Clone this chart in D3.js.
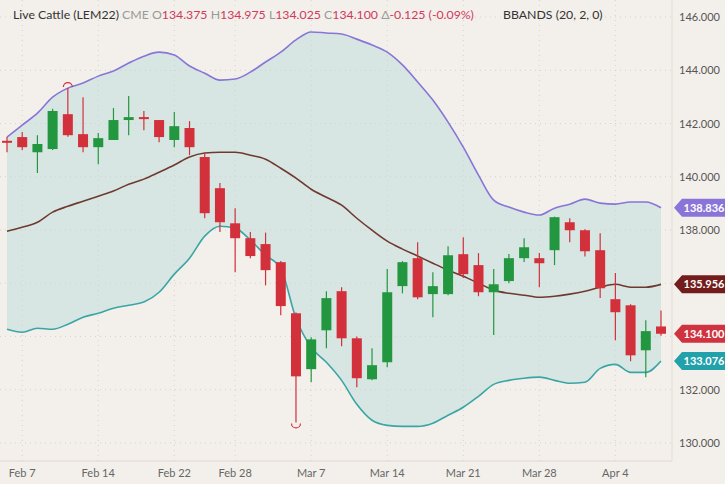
<!DOCTYPE html>
<html>
<head>
<meta charset="utf-8">
<script src="https://cdn.jsdelivr.net/npm/d3@7"></script>
<style>
  body { margin: 0; background: #f3f0eb; }
  svg { display: block; font-family: Lato, "Open Sans", sans-serif; }
</style>
</head>
<body>
<script>
const dates = ['Feb 4','Feb 7','Feb 8','Feb 9','Feb 10','Feb 11','Feb 14','Feb 15','Feb 16','Feb 17','Feb 18',
  'Feb 22','Feb 23','Feb 24','Feb 25','Feb 28','Mar 1','Mar 2','Mar 3','Mar 4','Mar 7','Mar 8','Mar 9','Mar 10','Mar 11',
  'Mar 14','Mar 15','Mar 16','Mar 17','Mar 18','Mar 21','Mar 22','Mar 23','Mar 24','Mar 25','Mar 28','Mar 29','Mar 30',
  'Mar 31','Apr 1','Apr 4','Apr 5','Apr 6','Apr 7'];
const open  = [141.35,141.49,140.92,141.04,142.35,141.60,141.11,141.38,142.13,142.24,142.13,141.38,141.83,140.74,139.57,138.25,137.69,137.47,136.79,134.87,132.77,134.23,135.70,133.93,132.39,133.03,135.89,136.94,135.59,135.59,137.09,136.68,135.66,136.08,136.94,136.94,137.24,138.29,137.99,137.24,135.40,135.17,133.48,134.375];
const high  = [141.49,141.68,141.56,142.55,143.33,142.99,141.64,142.58,143.03,142.47,142.13,142.43,142.09,140.89,139.76,138.82,137.92,137.90,136.83,134.90,133.97,135.70,135.85,134.00,133.56,136.53,136.83,137.54,136.41,137.39,137.73,137.13,136.53,137.10,137.69,137.13,138.50,138.44,138.03,137.88,136.38,135.21,134.61,134.975];
const low   = [140.92,141.00,140.14,141.00,141.50,140.92,140.47,141.40,141.56,141.75,141.30,141.11,140.81,138.44,137.92,136.41,136.94,135.92,134.80,130.77,132.28,133.56,133.63,132.09,132.35,132.84,135.62,135.40,134.72,135.55,136.20,135.51,134.05,136.00,136.80,135.85,136.68,137.54,137.00,135.44,133.86,133.07,132.47,134.025];
const close = [141.30,141.11,141.23,142.47,141.56,141.11,141.45,142.13,142.24,142.17,141.49,141.90,141.11,138.63,138.29,137.69,137.02,136.49,135.14,132.50,133.89,135.44,133.93,132.43,132.92,135.66,136.79,135.47,135.89,137.05,136.34,135.66,135.96,136.94,137.35,136.75,138.48,137.99,137.20,135.81,134.91,133.29,134.20,134.10];
const upper = [141.49,141.94,142.39,142.99,143.33,143.52,143.78,143.97,144.27,144.53,144.68,144.57,144.16,143.89,143.63,143.67,143.93,144.31,144.68,145.14,145.44,145.40,145.36,145.17,144.95,144.68,144.20,143.56,142.88,142.05,141.11,140.06,139.12,138.86,138.67,138.56,138.82,138.97,139.16,139.01,138.97,139.05,139.05,138.836];
const middle = [137.95,138.10,138.29,138.67,138.89,139.08,139.27,139.46,139.72,139.91,140.17,140.44,140.74,140.89,140.92,140.92,140.81,140.66,140.32,139.95,139.53,139.23,138.93,138.44,137.99,137.58,137.28,137.02,136.75,136.49,136.26,136.00,135.74,135.62,135.55,135.47,135.51,135.59,135.70,135.85,135.96,135.85,135.85,135.956];
const lower = [134.27,134.16,134.31,134.27,134.46,134.72,134.87,135.06,135.17,135.29,135.66,136.34,136.94,137.77,138.14,138.07,137.62,137.05,136.56,134.68,133.59,133.03,132.35,131.45,130.85,130.66,130.62,130.62,130.74,131.04,131.34,131.75,132.20,132.35,132.43,132.47,132.35,132.24,132.28,132.80,132.95,132.65,132.65,133.076];
const xTicks = ['Feb 7','Feb 14','Feb 22','Feb 28','Mar 7','Mar 14','Mar 21','Mar 28','Apr 4'];
const yTicks = [130,132,134,136,138,140,142,144,146];

const width = 725, height = 484;
const plotRight = 672, plotBottom = 461;
const RED = '#d2303a', GREEN = '#23973f';

const x = d3.scaleLinear().domain([0, dates.length - 1]).range([7, 661]);
const y = d3.scaleLinear().domain([129.32, 146.64]).range([plotBottom, 0]);

const svg = d3.select('body').append('svg').attr('width', width).attr('height', height);
svg.append('rect').attr('width', width).attr('height', height).attr('fill', '#f3f0eb');

const idx = d3.range(dates.length);
const last = dates.length - 1;

// band fill
svg.append('path')
  .attr('fill', '#d8e6e3')
  .attr('d', d3.area().x(i => x(i)).y0(i => y(lower[i])).y1(i => y(upper[i])).curve(d3.curveMonotoneX)(idx));

// grid
const grid = svg.append('g').attr('stroke', '#d6d2cb').attr('stroke-dasharray', '1,4');
grid.selectAll('.h').data(yTicks).join('line')
  .attr('x1', 0).attr('x2', plotRight).attr('y1', d => y(d)).attr('y2', d => y(d));
grid.selectAll('.v').data(xTicks).join('line')
  .attr('x1', d => x(dates.indexOf(d))).attr('x2', d => x(dates.indexOf(d)))
  .attr('y1', 0).attr('y2', plotBottom);

// axes
svg.append('line').attr('x1', 0).attr('x2', plotRight).attr('y1', plotBottom).attr('y2', plotBottom).attr('stroke', '#e0d6d2');
svg.append('line').attr('x1', plotRight).attr('x2', plotRight).attr('y1', 0).attr('y2', plotBottom).attr('stroke', '#e2ddd6');

const tags = [
  { v: upper[last], c: '#8a74d8' },
  { v: middle[last], c: '#731c1c' },
  { v: close[last], c: '#cf3340' },
  { v: lower[last], c: '#22a1ab' }
];

svg.append('g').selectAll('text').data(xTicks).join('text')
  .attr('x', d => x(dates.indexOf(d))).attr('y', 477).attr('text-anchor', 'middle')
  .attr('font-size', 11).attr('fill', '#666').text(d => d);
// tick labels hidden behind price tags are skipped
svg.append('g').selectAll('text')
  .data(yTicks.filter(t => !tags.some(g => Math.abs(y(g.v) - y(t)) < 14)))
  .join('text')
  .attr('x', 720).attr('y', d => y(d) + 4).attr('text-anchor', 'end')
  .attr('font-size', 11).attr('fill', '#555').text(d => d.toFixed(3));

// band lines
const line = arr => d3.line().x(i => x(i)).y(i => y(arr[i])).curve(d3.curveMonotoneX)(idx);
svg.append('path').attr('d', line(upper)).attr('fill', 'none').attr('stroke', '#8676d6').attr('stroke-width', 1.6);
svg.append('path').attr('d', line(lower)).attr('fill', 'none').attr('stroke', '#3aa5a6').attr('stroke-width', 1.6);
svg.append('path').attr('d', line(middle)).attr('fill', 'none').attr('stroke', '#6e3a30').attr('stroke-width', 1.6);

// candles
const candles = svg.append('g').selectAll('g').data(idx).join('g')
  .attr('transform', i => `translate(${x(i)},0)`);
candles.append('line')
  .attr('y1', i => y(high[i])).attr('y2', i => y(low[i]))
  .attr('stroke', i => close[i] >= open[i] ? GREEN : RED).attr('stroke-width', 1.2);
candles.append('rect')
  .attr('x', -5).attr('width', 10)
  .attr('y', i => y(Math.max(open[i], close[i])))
  .attr('height', i => Math.max(2, Math.abs(y(open[i]) - y(close[i]))))
  .attr('fill', i => close[i] >= open[i] ? GREEN : RED);

// high / low markers
const hiIdx = d3.maxIndex(high), loIdx = d3.minIndex(low);
const arc = d3.arc().innerRadius(4.5).outerRadius(4.5);
svg.append('path').attr('transform', `translate(${x(hiIdx)},${y(high[hiIdx]) - 1})`)
  .attr('d', arc({ startAngle: -Math.PI / 2, endAngle: Math.PI / 2 }))
  .attr('fill', 'none').attr('stroke', RED).attr('stroke-width', 1.2);
svg.append('path').attr('transform', `translate(${x(loIdx)},${y(low[loIdx]) + 1})`)
  .attr('d', arc({ startAngle: Math.PI / 2, endAngle: Math.PI * 1.5 }))
  .attr('fill', 'none').attr('stroke', RED).attr('stroke-width', 1.2);

// price tags
const tg = svg.append('g').selectAll('g').data(tags).join('g')
  .attr('transform', d => `translate(674,${y(d.v)})`);
tg.append('path').attr('d', 'M0,0 L8,-9 L51,-9 L51,9 L8,9 Z').attr('fill', d => d.c);
tg.append('text').attr('x', 30).attr('y', 4).attr('text-anchor', 'middle')
  .attr('font-size', 11).attr('font-weight', 'bold').attr('fill', '#fff').text(d => d.v.toFixed(3));

// header
const hdr = svg.append('text').attr('x', 13).attr('y', 19).attr('font-size', 12.3);
const parts = [
  ['Live Cattle (LEM22) ', '#333'], ['CME ', '#999'],
  ['O', '#999'], [open[last].toFixed(3) + ' ', '#d13a5c'],
  ['H', '#999'], [high[last].toFixed(3) + ' ', '#d13a5c'],
  ['L', '#999'], [low[last].toFixed(3) + ' ', '#d13a5c'],
  ['C', '#999'], [close[last].toFixed(3) + ' ', '#d13a5c'],
  ['\u0394', '#999'], ['-0.125 (-0.09%)', '#d13a5c']
];
parts.forEach(([t, c]) => hdr.append('tspan').attr('fill', c).text(t));
svg.append('text').attr('x', 503).attr('y', 19).attr('font-size', 12.3).attr('fill', '#333').text('BBANDS (20, 2, 0)');
</script>
</body>
</html>
